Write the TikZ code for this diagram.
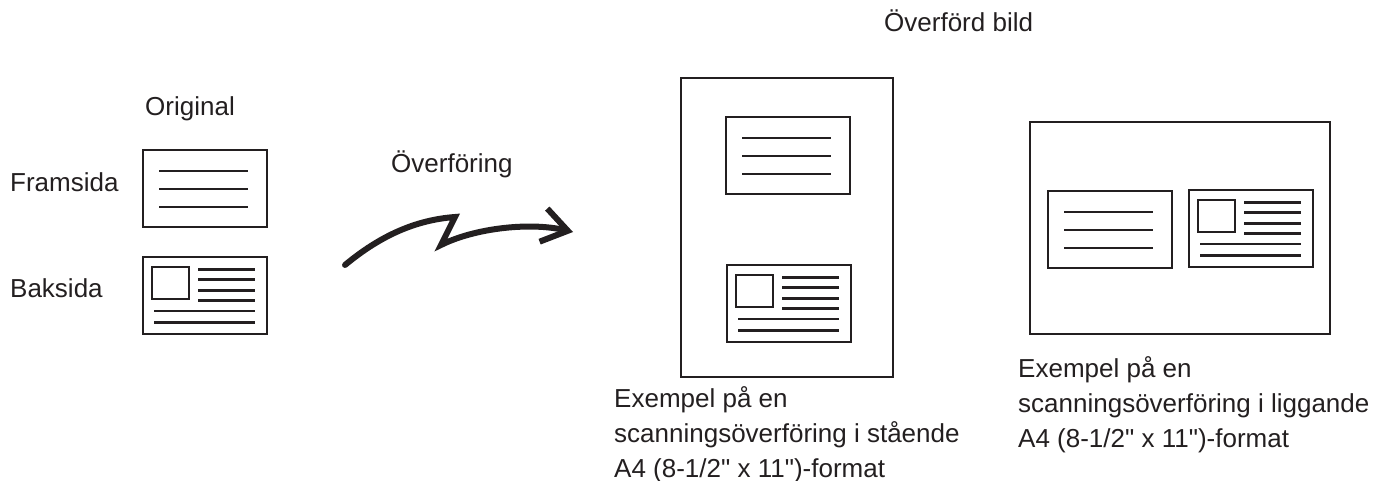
\documentclass[tikz,border=0pt]{standalone}
\usepackage{fontspec}
\setmainfont{Liberation Sans}[Ligatures=TeXOff]
\usetikzlibrary{arrows.meta}

\definecolor{ink}{RGB}{35,31,32}

\begin{document}
\begin{tikzpicture}[x=1pt, y=-1pt, font=\fontsize{26}{35}\selectfont, text=ink,
  card/.style={draw=ink, line width=2.8pt, inner sep=0pt, outer sep=0pt,
    minimum width=124pt, minimum height=77pt, anchor=north west},
  sheet/.style={draw=ink, line width=2.8pt, inner sep=0pt, outer sep=0pt, anchor=north west},
  cardline/.style={draw=ink, line width=2.8pt},
  caption/.style={inner sep=0pt, align=left, anchor=base west},
  bolt/.style={draw=ink, line width=6pt, line cap=round, line join=miter,
    -{Straight Barb[length=25pt,width=34pt]}}]
  \useasboundingbox (0,0) rectangle (1377,481);

  % card with three text lines
  \def\frontcard#1#2#3{%
    \node[card] (#1) at (#2,#3) {};
    \foreach \ly in {21,39,57}
      \draw[cardline] ([shift={(16,\ly)}]#1.north west) -- ([shift={(105,\ly)}]#1.north west);
  }
  % card with picture and lines
  \def\backcard#1#2#3{%
    \node[card] (#1) at (#2,#3) {};
    \draw[cardline] ([shift={(9,10)}]#1.north west) rectangle ([shift={(46,42)}]#1.north west);
    \foreach \ly in {12.5,22.5,33.5,43.5}
      \draw[cardline] ([shift={(55,\ly)}]#1.north west) -- ([shift={(112,\ly)}]#1.north west);
    \foreach \ly in {54,65.5}
      \draw[cardline] ([shift={(11,\ly)}]#1.north west) -- ([shift={(112,\ly)}]#1.north west);
  }

  % original
  \node[caption, anchor=base] (original) at (190,116) {Original};
  \node[caption] (framlabel) at (10,192) {Framsida};
  \node[caption] (baklabel) at (10,298) {Baksida};
  \frontcard{orgfront}{143}{150}
  \backcard{orgback}{143}{257}

  % transfer
  \node[caption] (sendlabel) at (391,173) {Överföring};
  \coordinate (boltstart) at (345,265);
  \coordinate (boltend) at (573,232);
  \draw[bolt] (boltstart) .. controls (380,236) and (415,220) .. (455,217)
    -- (441,245) .. controls (475,228) and (530,222) .. (boltend);

  % transferred image
  \node[caption] (sentlabel) at (884,32) {Överförd bild};

  \node[sheet, minimum width=212pt, minimum height=299pt] (portrait) at (681,78) {};
  \frontcard{portfront}{726}{117}
  \backcard{portback}{727}{265}
  \node[caption] (portcaption) at (614,477)
    {Exempel på en\\scanningsöverföring i stående\\A4 (8-1/2" x 11")-format};

  \node[sheet, minimum width=300pt, minimum height=212pt] (landscape) at (1030,122) {};
  \frontcard{landfront}{1048}{191}
  \backcard{landback}{1189}{190}
  \node[caption] (landcaption) at (1018,447)
    {Exempel på en\\scanningsöverföring i liggande\\A4 (8-1/2" x 11")-format};
\end{tikzpicture}
\end{document}
